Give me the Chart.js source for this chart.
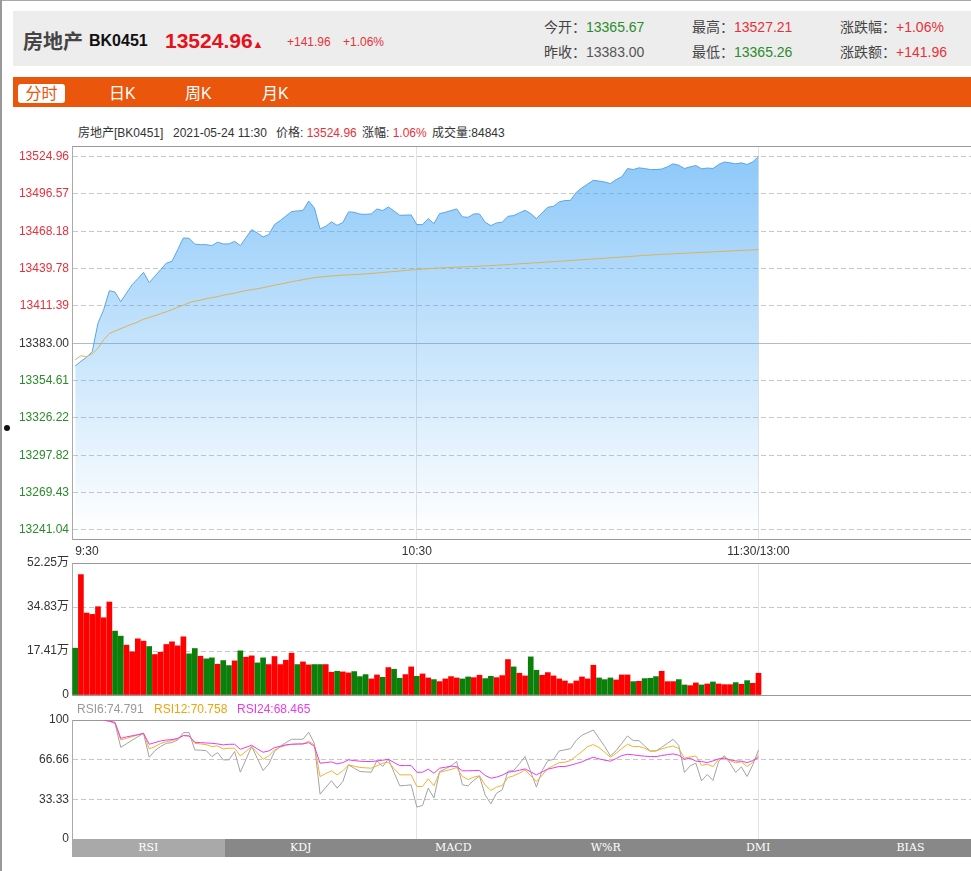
<!DOCTYPE html>
<html><head><meta charset="utf-8">
<script src="https://cdn.jsdelivr.net/npm/chart.js@4.4.1/dist/chart.umd.min.js"></script>
<style>
html,body{margin:0;padding:0;background:#fff;}
body{width:971px;height:871px;overflow:hidden;position:relative;font-family:"Liberation Sans",Arial,"Noto Sans CJK SC",sans-serif;}
.a{position:absolute;white-space:nowrap;}
canvas{position:absolute;left:0;}
.tab{position:absolute;top:839px;height:18px;width:152.5px;line-height:18px;text-align:center;color:#fff;font-family:"DejaVu Serif","Liberation Serif",serif;font-size:11px;z-index:5;}
</style></head>
<body>
<div class="a" style="left:0;top:0;width:971px;height:1px;background:#aaa"></div>
<div class="a" style="left:0;top:0;width:2px;height:871px;background:#999"></div>
<div class="a" style="left:4px;top:425px;width:6px;height:6px;border-radius:50%;background:#111"></div>

<div class="a" style="left:13px;top:11px;width:958px;height:55px;background:#ededed"></div>
<div class="a" style="left:23px;top:29px;font-size:20px;line-height:24px;font-weight:bold;color:#444;font-family:'Noto Sans CJK SC',sans-serif">房地产</div>
<div class="a" style="left:89px;top:31px;font-size:16px;line-height:20px;font-weight:bold;color:#111">BK0451</div>
<div class="a" style="left:165px;top:29px;font-size:21px;line-height:24px;font-weight:bold;color:#e8101a">13524.96<span style="font-size:11px">▲</span></div>
<div class="a" style="left:287px;top:35px;font-size:12px;line-height:14px;color:#e8303a">+141.96</div>
<div class="a" style="left:343px;top:35px;font-size:12px;line-height:14px;color:#e8303a">+1.06%</div>

<div class="a" style="left:544px;top:18px;font-size:14px;line-height:18px;color:#444">今开：<span style="color:#2a8c2a">13365.67</span></div>
<div class="a" style="left:544px;top:43px;font-size:14px;line-height:18px;color:#444">昨收：<span style="color:#555">13383.00</span></div>
<div class="a" style="left:692px;top:18px;font-size:14px;line-height:18px;color:#444">最高：<span style="color:#e8303a">13527.21</span></div>
<div class="a" style="left:692px;top:43px;font-size:14px;line-height:18px;color:#444">最低：<span style="color:#2a8c2a">13365.26</span></div>
<div class="a" style="left:840px;top:18px;font-size:14px;line-height:18px;color:#444">涨跌幅：<span style="color:#e8303a">+1.06%</span></div>
<div class="a" style="left:840px;top:43px;font-size:14px;line-height:18px;color:#444">涨跌额：<span style="color:#e8303a">+141.96</span></div>

<div class="a" style="left:13px;top:77px;width:958px;height:30px;background:#e9560c"></div>
<div class="a" style="left:18px;top:84px;width:47px;height:19px;border-radius:3px;background:#fff;color:#e9560c;font-size:16px;line-height:19px;text-align:center">分时</div>
<div class="a" style="left:109px;top:84px;color:#fff;font-size:16px;line-height:19px">日K</div>
<div class="a" style="left:185px;top:84px;color:#fff;font-size:16px;line-height:19px">周K</div>
<div class="a" style="left:262px;top:84px;color:#fff;font-size:16px;line-height:19px">月K</div>

<div class="a" style="left:78px;top:126px;font-size:12px;line-height:14px;color:#333">房地产[BK0451]</div>
<div class="a" style="left:173px;top:126px;font-size:12px;line-height:14px;color:#333">2021-05-24 11:30</div>
<div class="a" style="left:276px;top:126px;font-size:12px;line-height:14px;color:#333">价格: <span style="color:#e8303a">13524.96</span></div>
<div class="a" style="left:362px;top:126px;font-size:12px;line-height:14px;color:#333">涨幅: <span style="color:#e8303a">1.06%</span></div>
<div class="a" style="left:432px;top:126px;font-size:12px;line-height:14px;color:#333">成交量:84843</div>

<canvas id="cPrice" width="971" height="425" style="top:140px"></canvas>
<canvas id="cVol" width="971" height="150" style="top:553px"></canvas>
<div class="a" style="left:77px;top:702px;font-size:12px;line-height:14px;color:#999">RSI6:74.791</div>
<div class="a" style="left:154px;top:702px;font-size:12px;line-height:14px;color:#f0a30a">RSI12:70.758</div>
<div class="a" style="left:237px;top:702px;font-size:12px;line-height:14px;color:#e83ce8">RSI24:68.465</div>
<canvas id="cRsi" width="971" height="140" style="top:712px"></canvas>

<div class="tab" style="left:72px;background:#a9a9a9">RSI</div>
<div class="tab" style="left:224.5px;background:#888">KDJ</div>
<div class="tab" style="left:377px;background:#888">MACD</div>
<div class="tab" style="left:529.5px;background:#888">W%R</div>
<div class="tab" style="left:682px;background:#888">DMI</div>
<div class="tab" style="left:834.5px;width:137px;background:#888"><span style="margin-left:15px">BIAS</span></div>

<script>
const timeLabels = ['9:30','10:30','11:30/13:00'];
const timeTickIdx = [0,60,120];
const prevClose = 13383.00;
const priceTicks = [13524.96,13496.57,13468.18,13439.78,13411.39,13383.00,13354.61,13326.22,13297.82,13269.43,13241.04];
const price = [
13365.67,13369.30,13372.34,13376.76,13398.22,13408.50,13422.96,13421.82,13414.59,13421.06,
13427.52,13432.09,13436.89,13429.05,13433.99,13438.94,13443.89,13445.26,13454.16,13463.07,
13462.76,13458.35,13457.97,13457.97,13457.21,13459.87,13458.50,13458.50,13460.48,13457.21,
13463.30,13469.38,13466.72,13463.83,13465.58,13473.19,13476.23,13479.66,13483.08,13483.62,
13483.85,13491.08,13485.90,13469.92,13471.90,13475.25,13472.66,13474.71,13482.86,13482.55,
13481.18,13481.03,13481.33,13485.14,13483.85,13486.66,13483.47,13480.27,13480.42,13480.57,
13473.19,13473.19,13477.76,13473.95,13481.56,13482.55,13483.85,13485.14,13479.05,13478.75,
13481.33,13481.33,13474.94,13472.43,13474.48,13474.94,13479.51,13480.04,13482.10,13484.07,
13481.56,13477.76,13482.10,13486.36,13487.12,13490.47,13491.46,13491.68,13497.77,13501.12,
13504.01,13506.91,13506.30,13505.54,13504.40,13507.44,13509.49,13515.81,13515.05,13516.34,
13515.81,13515.05,13515.05,13515.43,13517.10,13519.39,13518.32,13515.81,13517.10,13518.10,
13515.58,13516.19,13515.81,13518.86,13520.76,13520.15,13519.39,13520.15,13518.86,13520.91,
13524.96];
const avgPrice = [
13370.44,13373.49,13372.73,13375.01,13379.19,13385.66,13390.23,13392.29,13394.04,13395.94,
13397.46,13399.14,13401.27,13402.64,13403.93,13405.45,13406.97,13408.50,13410.40,13411.92,
13413.82,13414.97,13415.73,13416.87,13417.63,13418.39,13419.53,13420.29,13421.06,13422.20,
13422.96,13423.72,13424.48,13425.24,13426.15,13427.14,13427.90,13428.82,13429.81,13430.57,
13431.33,13432.09,13432.85,13433.38,13433.77,13434.15,13434.45,13434.75,13434.98,13435.21,
13435.44,13435.74,13436.05,13436.43,13436.81,13437.19,13437.57,13437.95,13438.33,13438.71,
13439.09,13439.40,13439.70,13440.01,13440.23,13440.43,13440.62,13440.82,13441.01,13441.21,
13441.40,13441.60,13441.79,13441.99,13442.27,13442.55,13442.82,13443.10,13443.38,13443.66,
13443.94,13444.21,13444.49,13444.77,13445.05,13445.33,13445.60,13445.88,13446.17,13446.47,
13446.77,13447.07,13447.37,13447.67,13447.97,13448.26,13448.56,13448.86,13449.16,13449.46,
13449.76,13450.06,13450.36,13450.57,13450.78,13450.99,13451.20,13451.41,13451.63,13451.84,
13452.05,13452.26,13452.47,13452.68,13452.89,13453.10,13453.31,13453.52,13453.74,13453.95,
13454.16];
const volTicks = [0,17.41,34.83,52.25];
const volume = [
18.54,47.66,32.44,31.91,34.95,30.58,36.81,25.29,23.30,19.73,
17.08,22.24,21.32,19.20,16.02,16.95,19.99,21.05,19.46,23.04,
16.29,18.40,15.36,14.30,14.70,12.18,13.64,11.65,13.50,17.48,
14.96,15.49,12.71,14.70,12.05,15.23,12.05,13.77,16.55,12.05,
13.11,11.92,12.05,12.05,12.05,9.00,9.40,9.14,8.74,9.27,
7.28,8.08,6.36,7.94,7.02,10.86,10.19,6.62,8.08,11.12,
7.41,8.34,6.75,6.09,5.30,6.36,7.28,6.75,6.36,7.15,
6.88,7.81,6.49,7.41,6.88,7.68,14.03,11.12,8.61,7.55,
15.09,9.80,7.81,8.87,7.55,6.36,5.56,4.50,5.56,7.15,
6.36,11.78,6.75,6.09,6.75,5.96,7.94,7.94,5.30,5.43,
6.49,6.62,7.28,9.40,5.30,5.30,6.09,3.97,3.71,4.77,
3.97,4.37,5.16,4.37,4.10,4.10,4.90,4.24,5.69,4.63,
8.61];
const volUp = [
0,1,1,1,1,1,1,0,0,1, 1,1,1,0,1,1,1,1,1,1, 0,0,1,0,0,1,0,0,1,0,
1,1,0,0,1,1,1,1,1,0, 1,1,0,0,1,1,0,1,1,0, 0,0,1,1,0,1,0,0,1,1,
0,1,1,0,1,1,1,1,0,0, 1,1,0,0,1,1,1,0,1,1, 0,0,1,1,1,1,1,1,1,1,
1,1,0,0,0,1,1,1,0,1, 0,0,0,1,1,1,0,0,1,1, 0,1,0,1,1,1,0,1,0,1,
1];
const rsiTicks = [0,33.33,66.66,100];
const rsiStart = 5;
const rsi6 = [
100,99,97,77.1,80.0,83.0,85.9,88.8,68.7,74.3,
77.7,80.4,81.0,83.2,89.4,89.4,74.9,74.6,74.3,69.3,
72.6,66.5,66.5,73.5,56.1,67.0,77.7,67.6,57.5,63.1,
73.5,77.7,81.0,83.8,83.8,83.8,89.7,80.4,37.7,43.3,
48.9,42.7,48.3,62.3,59.5,56.7,56.4,56.1,65.9,60.9,
67.3,55.9,44.7,45.0,45.5,26.8,28.2,42.7,34.4,56.7,
58.9,61.5,65.1,45.5,44.7,49.4,52.8,36.9,29.6,38.5,
41.3,57.0,57.5,63.1,69.3,56.4,43.6,57.5,65.9,66.8,
74.0,74.9,76.0,83.0,87.2,89.4,91.6,84.6,77.7,69.8,
74.3,80.4,86.6,82.7,82.7,78.2,74.0,74.0,77.1,80.4,
83.8,78.5,55.9,61.5,63.7,48.9,54.2,49.2,65.1,70.1,
63.7,55.9,60.6,52.5,62.3,74.791];
const rsi12 = [
100,99,97.5,83.2,84.6,86.0,87.4,88.8,75.7,77.7,
80.2,81.8,82.7,84.1,86.9,86.6,80.4,79.9,79.3,77.7,
78.2,75.7,76.3,76.3,69.8,73.7,77.7,72.3,67.0,69.8,
74.9,77.1,78.8,79.6,79.6,79.9,82.1,79.1,52.5,55.0,
57.3,53.9,57.3,62.3,61.2,60.1,59.8,59.5,61.5,63.7,
64.5,59.2,53.9,53.9,53.9,44.1,44.1,50.6,44.7,55.9,
57.3,58.4,60.1,52.5,50.0,52.0,53.1,45.3,40.8,43.6,
45.0,51.7,53.1,55.3,58.1,53.1,48.3,53.6,59.2,61.7,
64.2,64.5,65.9,69.8,73.5,77.7,79.3,76.8,72.9,68.7,
72.1,76.0,79.6,77.7,77.7,76.3,73.7,74.0,75.7,77.1,
78.2,76.0,67.9,69.0,69.8,62.0,62.8,60.9,67.0,69.0,
65.6,64.0,64.8,60.9,64.5,70.758];
const rsi24 = [
100,99,98,84.6,85.8,86.7,87.7,88.8,79.6,81.0,
82.4,83.2,83.5,84.6,86.9,86.6,81.3,81.0,80.7,80.4,
79.9,79.1,79.6,79.6,75.4,77.1,78.8,75.7,72.9,74.0,
76.8,77.9,79.1,79.6,79.9,79.9,81.0,78.0,63.7,64.2,
64.8,63.1,64.2,66.5,65.9,65.4,65.1,65.1,65.6,66.2,
67.0,64.2,61.7,61.7,61.7,56.1,56.1,58.7,55.3,59.5,
60.3,61.2,60.9,57.3,57.3,57.5,57.5,53.4,51.1,52.0,
53.6,56.1,56.7,57.8,58.9,56.4,53.9,56.4,58.7,59.8,
60.9,60.9,62.0,63.4,64.8,67.0,68.7,67.3,66.2,65.4,
67.6,70.1,71.2,70.7,70.1,69.6,69.3,69.3,70.1,70.9,
71.5,70.4,67.0,67.9,65.4,65.1,64.2,65.6,67.3,67.9,
66.5,65.6,65.4,64.2,65.9,68.465];

// ---- chart configuration ----
Chart.defaults.font.family = '"Liberation Sans", Arial, "Noto Sans CJK SC", sans-serif';
Chart.defaults.font.size = 12;
Chart.defaults.color = '#333';

const X_MIN = -0.562, X_MAX = 157.32;
const PRICE_MIN = 13234.19, PRICE_MAX = 13532.95;
const RED = '#e8303a', GREEN = '#2a8c2a';
const DASH_COLOR = '#c8c8c8', FRAME = '#999';
const near = (a,b) => Math.abs(a-b) < 1e-6;
const noPad = s => { s.paddingLeft = 0; s.paddingRight = 0; s.paddingTop = 0; s.paddingBottom = 0; };

const common = {
  responsive:false, animation:false, events:[], devicePixelRatio:1,
  plugins:{legend:{display:false}, tooltip:{enabled:false}}
};

function xAxis(height, showLabels, showBorder){
  return {
    type:'linear', min:X_MIN, max:X_MAX, bounds:'data', offset:false,
    afterBuildTicks: s => { s.ticks = (showLabels ? [...timeTickIdx, X_MAX] : timeTickIdx.slice(1)).map(v=>({value:v})); },
    afterFit: s => { s.height = height; noPad(s); },
    ticks: { display:showLabels, autoSkip:false, maxRotation:0, minRotation:0, align:'inner', padding:5, color:'#333',
             callback: (v,i) => showLabels ? (i < timeLabels.length ? timeLabels[i] : '') : '' },
    grid: { drawTicks:false, offset:false,
            color: c => (c.tick && c.tick.value > 0.5 && c.tick.value < X_MAX - 1) ? '#e3e3e3' : 'rgba(0,0,0,0)' },
    border: { display:showBorder, color:FRAME }
  };
}
function yAxis(min, max, tickVals, labelFn, colorFn, solidFn){
  return {
    min, max, bounds:'data',
    afterBuildTicks: s => { s.ticks = tickVals.slice().sort((a,b)=>a-b).map(v=>({value:v})); },
    afterFit: s => { s.width = 72; noPad(s); },
    ticks: { autoSkip:false, padding:3, callback: v => labelFn(v), color: c => colorFn(c.tick ? c.tick.value : 0) },
    grid: { drawTicks:false, color: c => c.tick ? solidFn(c.tick.value).color : DASH_COLOR },
    border: { display:true, color:'#aaa', dash: c => (c.tick && solidFn(c.tick.value).solid) ? [] : [5,3] }
  };
}

// Price chart
new Chart(document.getElementById('cPrice'), {
  type:'line',
  data:{ datasets:[
    { data: avgPrice.map((v,i)=>({x:i,y:v})), borderColor:'#d8b25c', borderWidth:1, pointRadius:0, tension:0, fill:false },
    { data: price.map((v,i)=>({x:i,y:v})), borderColor:'#5aa5e6', borderWidth:1, pointRadius:0, tension:0, fill:'start',
      backgroundColor: c => { const a = c.chart.chartArea; if(!a) return 'rgba(66,165,245,0.3)';
        const g = c.chart.ctx.createLinearGradient(0,a.top,0,a.bottom);
        g.addColorStop(0,'rgba(66,165,245,0.62)'); g.addColorStop(0.95,'rgba(66,165,245,0.02)'); g.addColorStop(1,'rgba(66,165,245,0)');
        return g; } }
  ]},
  options:{ ...common, layout:{padding:{top:6,left:0,right:0,bottom:0}},
    scales:{
      x: xAxis(26, true, true),
      y: yAxis(PRICE_MIN, PRICE_MAX, [...priceTicks, PRICE_MAX],
        v => near(v,PRICE_MAX) ? '' : v.toFixed(2),
        v => v > prevClose + 0.001 ? RED : (v < prevClose - 0.001 ? GREEN : '#333'),
        v => near(v,PRICE_MAX) ? {solid:true,color:FRAME} : near(v,prevClose) ? {solid:true,color:'#b3bbc6'} : {solid:false,color:DASH_COLOR})
    }
  }
});

// Volume chart
new Chart(document.getElementById('cVol'), {
  type:'bar',
  data:{ datasets:[
    { data: volume.map((v,i)=>({x:i,y:v})), backgroundColor: volUp.map(u => u ? '#ff0000' : '#0a800a'), borderWidth:0, barThickness:5 }
  ]},
  options:{ ...common, layout:{padding:{top:10,left:0,right:0,bottom:0}},
    scales:{
      x: xAxis(8, false, true),
      y: yAxis(0, volTicks[volTicks.length-1], volTicks,
        v => v === 0 ? '0' : v.toFixed(2) + '万',
        v => '#333',
        v => near(v, volTicks[volTicks.length-1]) ? {solid:true,color:FRAME} : v === 0 ? {solid:true,color:'rgba(0,0,0,0)'} : {solid:false,color:DASH_COLOR})
    }
  }
});

// RSI chart
const rsiPts = arr => arr.map((v,i)=>({x:i+rsiStart,y:v}));
new Chart(document.getElementById('cRsi'), {
  type:'line',
  data:{ datasets:[
    { data: rsiPts(rsi24), borderColor:'#e83ce8', borderWidth:1, pointRadius:0, tension:0, order:0 },
    { data: rsiPts(rsi12), borderColor:'#f2b135', borderWidth:1, pointRadius:0, tension:0, order:1 },
    { data: rsiPts(rsi6), borderColor:'#a3a3a3', borderWidth:1, pointRadius:0, tension:0, order:2 }
  ]},
  options:{ ...common, layout:{padding:{top:8,left:0,right:0,bottom:0}},
    scales:{
      x: xAxis(13, false, false),
      y: yAxis(0, 100, rsiTicks,
        v => v === 100 ? '100' : v === 0 ? '0' : v.toFixed(2),
        v => '#333',
        v => v === 100 ? {solid:true,color:FRAME} : v === 0 ? {solid:true,color:'rgba(0,0,0,0)'} : {solid:false,color:DASH_COLOR})
    }
  }
});
</script>
</body></html>
